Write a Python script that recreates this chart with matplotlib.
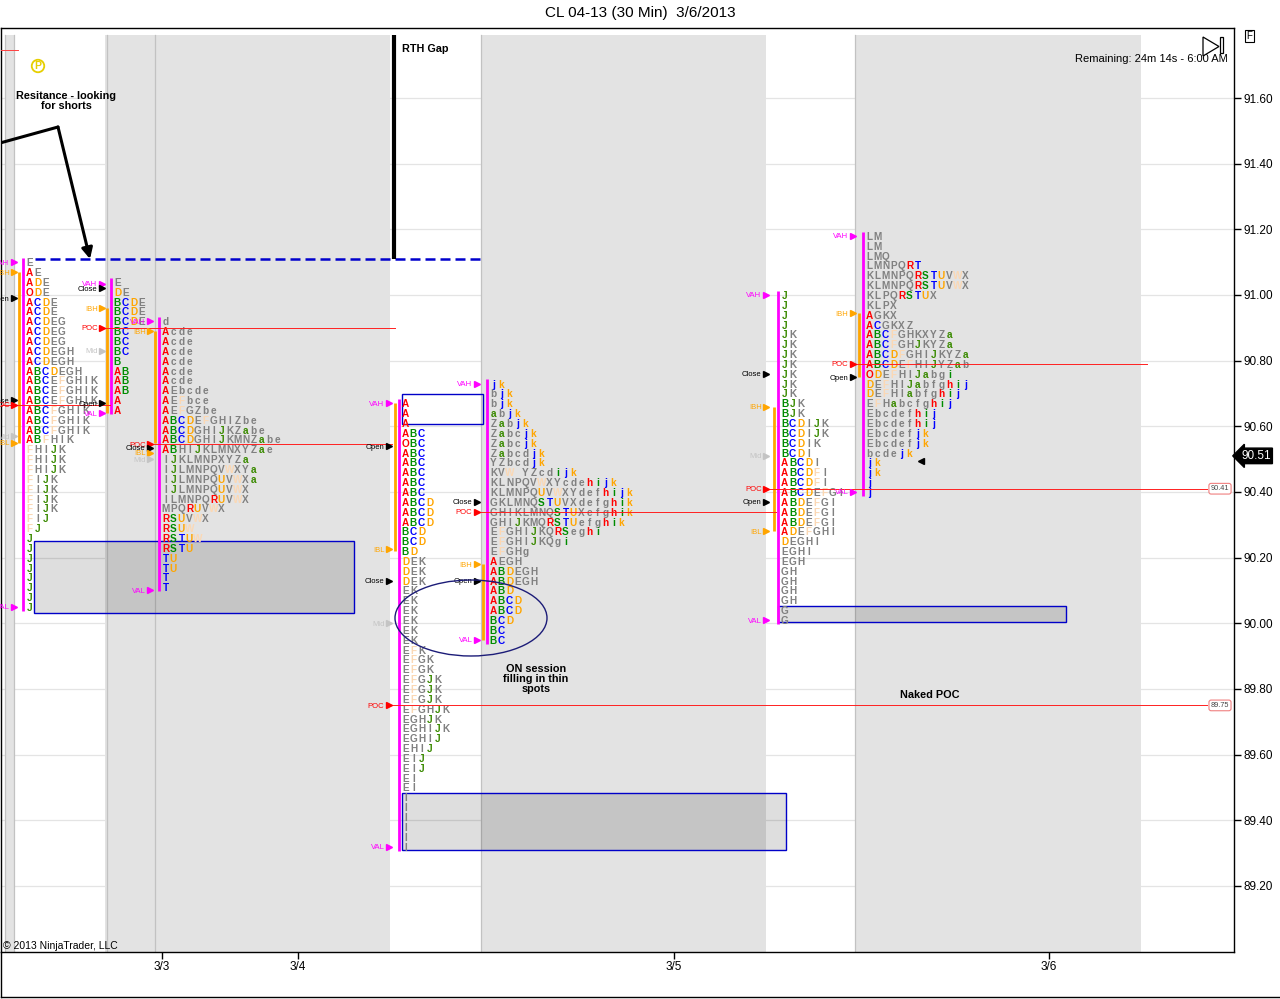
import numpy as np
import matplotlib
matplotlib.use("Agg")
import matplotlib.pyplot as plt
from matplotlib.patches import Rectangle, Ellipse, Polygon
from matplotlib.lines import Line2D

plt.rcParams['font.family'] = ['Liberation Sans', 'DejaVu Sans']

# ============== chart data ==============
title = "CL 04-13 (30 Min)  3/6/2013"
price_ticks = [89.20, 89.40, 89.60, 89.80, 90.00, 90.20, 90.40, 90.60, 90.80, 91.00, 91.20, 91.40, 91.60]
date_labels = ['3/3', '3/4', '3/5', '3/6']
tick_size = 0.03
last_price = 90.51

# TPO rows, top row first.  F and W are the faint letters.
p1_rows = ["E", "AE", "ADE", "ODE", "ACDE", "ACDE", "ACDEG", "ACDEG", "ACDEG", "ACDEGH", "ACDEGH",
           "ABCDEGH", "ABCEFGHIK", "ABCEFGHIK", "ABCEFGHIK", "ABCFGHIK", "ABCFGHIK", "ABCFGHIK",
           "ABFHIK", "FHIJK", "FHIJK", "FHIJK", "FIJK", "FIJK", "FIJK", "FIJK", "FIJ", "FJ",
           "J", "J", "J", "J", "J", "J", "J", "J"]
p2_rows = ["E", "DE", "BCDE", "BCDE", "BCDE", "BC", "BC", "BC", "B", "AB", "AB", "AB", "A", "A"]
p3_rows = ["d", "Acde", "Acde", "Acde", "Acde", "Acde", "Acde", "AEbcde", "AEFbce", "AEFGZbe",
           "ABCDEFGHIZbe", "ABCDGHIJKZabe", "ABCDGHIJKMNZabe", "ABHIJKLMNXYZae", "IJKLMNPXYZa",
           "IJLMNPQVWXYa", "IJLMNPQUVWXa", "IJLMNPQUVWX", "ILMNPQRUVWX", "MPQRUVWX", "RSUVWX",
           "RSUW", "RSTUW", "RSTU", "TU", "TU", "T", "T"]
p4_rows = ["A", "A", "A", "ABC", "OBC", "ABC", "ABC", "ABC", "ABC", "ABC", "ABCD", "ABCD", "ABCD",
           "BCD", "BCD", "BD", "DEK", "DEK", "DEK", "EK", "EK", "EK", "EK", "EK", "EK", "EFK",
           "EFGK", "EFGK", "EFGJK", "EFGJK", "EFGJK", "EFGHJK", "EGHJK", "EGHIJK", "EGHIJ", "EHIJ",
           "EIJ", "EIJ", "EI", "EI", "I", "I", "I", "I", "I", "I"]
p5_rows = ["jk", "bjk", "bjk", "abjk", "Zabjk", "Zabcjk", "Zabcjk", "Zabcdjk", "YZbcdjk",
           "KVW YZcdijk", "KLNPQVWXYcdehijk", "KLMNPQUVWXYdefhijk", "GKLMNQSTUVXdefghik",
           "GHIKLMNQSTUXefghik", "GHIJKMQRSTUefghik", "EFGHIJKQRSeghi", "EFGHIJKQgi", "EFGHg",
           "AEGH", "ABDEGH", "ABDEGH", "ABD", "ABCD", "ABCD", "BCD", "BC", "BC"]
p6_rows = ["J", "J", "J", "J", "JK", "JK", "JK", "JK", "JK", "JK", "JK", "BJK", "BJK", "BCDIJK",
           "BCDIJK", "BCDIK", "BCDI", "ABCDI", "ABCDFI", "ABCDFI", "ABCDEFGI", "ABDEFGI", "ABDEFGI",
           "ABDEFGI", "ADEFGHI", "DEGHI", "EGHI", "EGH", "GH", "GH", "GH", "GH", "G", "G"]
p7_rows = ["LM", "LM", "LMQ", "LMNPQRT", "KLMNPQRSTUVWX", "KLMNPQRSTUVWX", "KLPQRSTUX", "KLPX",
           "AGKX", "ACGKXZ", "ABCFGHKXYZa", "ABCFGHJKYZa", "ABCDFGHIJKYZa", "ABCDEFHIJYZab",
           "ODEFHIJabgi", "DEFHIJabfghij", "DEFHIabfghij", "EFHabcfghij", "Ebcdefhij", "Ebcdefhij",
           "Ebcdefjk", "Ebcdefjk", "bcdejk", "jk", "jk", "j", "j"]

profile_tops = [91.10, 91.04, 90.92, 90.67, 90.73, 91.00, 91.18]
profile_ib = [(91.07, 90.55), (90.96, 90.64), (90.89, 90.55), (90.67, 90.22),
              (90.18, 89.95), (90.66, 90.28), (90.945, 90.75)]
profile_marks = [
    [("VAH", 91.10), ("IBH", 91.07), ("Open", 90.99), ("Close", 90.68), ("POC", 90.665),
     ("Mid", 90.57), ("IBL", 90.55), ("VAL", 90.05)],
    [("VAH", 91.035), ("Close", 91.02), ("IBH", 90.96), ("POC", 90.90), ("Mid", 90.83),
     ("Open", 90.67), ("VAL", 90.64)],
    [("VAH", 90.92), ("IBH", 90.89), ("POC", 90.545), ("Close", 90.535), ("IBL", 90.52),
     ("Mid", 90.50), ("VAL", 90.10)],
    [("VAH", 90.67), ("Open", 90.54), ("IBL", 90.225), ("Close", 90.13), ("Mid", 90.00),
     ("POC", 89.75), ("VAL", 89.32)],
    [("VAH", 90.73), ("Close", 90.37), ("POC", 90.34), ("IBH", 90.18), ("Open", 90.13),
     ("VAL", 89.95)],
    [("VAH", 91.00), ("Close", 90.76), ("IBH", 90.66), ("Mid", 90.51), ("POC", 90.41),
     ("Open", 90.37), ("IBL", 90.28), ("VAL", 90.01)],
    [("VAH", 91.18), ("IBH", 90.945), ("POC", 90.79), ("Open", 90.75), ("VAL", 90.40)],
]
naked_pocs = [89.75, 90.41]
resistance = 91.11
# =========================================

# layout (pixels of the 1280x999 picture)
W, H = 1280, 999
PX_L, PX_R, PX_T, PX_B = 1, 1234, 28, 952
date_x = [162, 298, 674, 1049]
profile_x = [23, 111, 159, 399, 487, 778, 863]
label_tip = [16, 104, 152, 391, 479, 768, 855]
poc_span = [(0, 110), (103, 395), (150, 392), (390, 1207), (477, 776), (768, 1207), (855, 1147)]
sessions = [(5, 14), (105, 390), (481, 766), (855, 1141)]


def yp(py):
    # picture row -> price
    return 91.60 - (py - 98) / 328.33


RED, GRN, BLU, ORG = '#ff0000', '#008c00', '#0000ff', '#ffa500'
GRY, PALE, DGRN, MAG = '#808080', '#fbd8b4', '#3a8a00', '#ff00ff'
letter_color = {c: GRY for c in "ABCDEFGHIJKLMNOPQRSTUVWXYZabcdefghijk"}
letter_color.update({'A': RED, 'B': GRN, 'C': BLU, 'D': ORG, 'F': PALE, 'J': DGRN, 'O': RED,
                     'R': RED, 'S': GRN, 'T': BLU, 'U': ORG, 'W': PALE, 'a': DGRN,
                     'h': RED, 'i': GRN, 'j': BLU, 'k': ORG})
mark_color = {'VAH': MAG, 'VAL': MAG, 'IBH': ORG, 'IBL': ORG, 'POC': RED,
              'Open': 'black', 'Close': 'black', 'Mid': '#c4c4c4'}

fig = plt.figure(figsize=(W / 100, H / 100), dpi=100)
ax = fig.add_axes([PX_L / W, 1 - PX_B / H, (PX_R - PX_L) / W, (PX_B - PX_T) / H])
ax.set_xlim(PX_L, PX_R)
ax.set_ylim(yp(PX_B), yp(PX_T))

# grid and session bands
for p in price_ticks:
    ax.axhline(p, color='#e4e4e4', lw=0.9, zorder=0.2)
for x0, x1 in sessions:
    ax.fill_between([x0, x1], yp(PX_B), yp(35), color='#e3e3e3', lw=0, zorder=0.5)
for xv in [5, 14, 107, 155, 481, 855]:
    ax.plot([xv, xv], [yp(PX_B), yp(35)], color='#c2c2c2', lw=0.9, zorder=0.6)

# shaded boxes
for x0, x1, y0, y1, filled in [(34, 354, 541, 613, True), (402, 483, 394, 424, False),
                               (402, 786, 793, 850, True), (778, 1066, 606, 622, True)]:
    ax.add_patch(Rectangle((x0, yp(y1)), x1 - x0, yp(y0) - yp(y1),
                           fc=(0, 0, 0, 0.13) if filled else 'none', ec='#0000c8', lw=1, zorder=1))

# profiles
all_rows = [p1_rows, p2_rows, p3_rows, p4_rows, p5_rows, p6_rows, p7_rows]
for k, rows in enumerate(all_rows):
    xl = profile_x[k]
    top = profile_tops[k]
    bottom = top - tick_size * (len(rows) - 1)
    ax.plot([xl, xl], [top + 0.013, bottom - 0.013], color=MAG, lw=2.0,
            solid_capstyle='butt', zorder=3)
    ax.plot([xl - 4, xl - 4], profile_ib[k], color=ORG, lw=2.0, solid_capstyle='butt', zorder=3)
    for i, row in enumerate(rows):
        p = top - tick_size * i
        for j, ch in enumerate(row):
            if ch == ' ':
                continue
            ax.text(xl + 6.5 + 8 * j, p, ch, color=letter_color[ch], fontsize=7.2,
                    fontweight='bold', ha='center', va='center_baseline', zorder=3)
    tip = label_tip[k]
    for name, price in profile_marks[k]:
        col = mark_color[name]
        ax.plot(tip - 2.5, price, marker='>', ms=3.8, color=col, mec=col, lw=0, zorder=5)
        ax.text(tip - 6.5, price, name, ha='right', va='center_baseline', fontsize=5.5,
                color=col, zorder=5)
    poc = [v for n, v in profile_marks[k] if n == 'POC'][0]
    ax.plot(poc_span[k], [poc, poc], color='#ff2020', lw=0.7, zorder=4)

ax.plot([0, 18], [yp(50), yp(50)], color='#ff4040', lw=0.7, zorder=4)

# naked POC value boxes
for v in naked_pocs:
    ax.text(1220, v, f"{v:.2f}", fontsize=5.3, ha='center', va='center', color='#444444',
            bbox=dict(boxstyle='round,pad=0.25,rounding_size=0.3', fc='white', ec='#f08080', lw=0.8),
            zorder=6)

# current price marker
ax.plot(921, last_price - 0.015, marker='<', ms=4, color='black', lw=0, zorder=6)

# annotations
ax.plot([35, 481], [resistance, resistance], color='#0000cc', lw=1.8, dashes=(4, 2), zorder=6)
ax.plot([394, 394], [yp(35), resistance], color='black', lw=3, solid_capstyle='butt', zorder=6)
ax.text(402, yp(49), "RTH Gap", fontsize=7.8, fontweight='bold', ha='left', va='center', zorder=7)
ax.text(66, yp(101), "Resitance - looking\nfor shorts", fontsize=7.8, fontweight='bold',
        ha='center', va='center', linespacing=1.05, zorder=7)
ax.plot([0, 58], [yp(143), yp(127)], color='black', lw=2.2, solid_capstyle='round', zorder=7)
ax.annotate('', xy=(90, yp(259)), xytext=(58, yp(127)),
            arrowprops=dict(arrowstyle='-|>', lw=2.2, color='black', mutation_scale=16,
                            shrinkA=0, shrinkB=0), zorder=7)
ax.text(38, yp(66), 'P', color='#e6cf00', fontsize=7.5, fontweight='bold', ha='center', va='center',
        bbox=dict(boxstyle='circle,pad=0.12', fc='none', ec='#e6cf00', lw=1.3), zorder=7)
ax.add_patch(Ellipse((471, yp(618)), 152, 76 / 328.33, fc='none', ec='#1c1c78', lw=1, zorder=6))
ax.text(536, yp(679), "ON session\nfilling in thin\nspots", fontsize=7.8, fontweight='bold',
        ha='center', va='center', linespacing=1.05, zorder=7)
ax.text(930, yp(695), "Naked POC", fontsize=7.8, fontweight='bold', ha='center', va='center', zorder=7)
ax.text(1228, yp(59), "Remaining: 24m 14s - 6:00 AM", fontsize=8, ha='right', va='center', zorder=7)
ax.add_patch(Polygon([(1203, yp(37)), (1203, yp(56)), (1219, yp(46.5))], closed=True,
                     fc='white', ec='black', lw=0.9, zorder=7))
ax.add_patch(Rectangle((1220, yp(53)), 3, yp(37) - yp(53), fc='white', ec='black', lw=0.9, zorder=7))
ax.text(3, yp(946), "\u00a9 2013 NinjaTrader, LLC", fontsize=7.5, ha='left', va='center', zorder=7)

# axes
ax.yaxis.tick_right()
ax.set_yticks(price_ticks)
ax.set_yticklabels([f"{p:.2f}" for p in price_ticks])
ax.set_xticks(date_x)
ax.set_xticklabels(date_labels)
ax.tick_params(axis='both', direction='out', length=5, width=1, labelsize=8.5, pad=1.5)
for s in ax.spines.values():
    s.set_linewidth(1)

ax.text(1241, last_price, f"{last_price:.2f}", color='white', fontsize=8.5, ha='left', va='center',
        transform=ax.transData, clip_on=False,
        bbox=dict(boxstyle='larrow,pad=0.15', fc='black', ec='black'), zorder=8)

fig.text(0.5, 1 - 13 / H, title, ha='center', va='center', fontsize=11)
fig.text(1249.5 / W, 1 - 36 / H, 'F', ha='center', va='center', fontsize=7,
         bbox=dict(boxstyle='square,pad=0.15', fc='white', ec='black', lw=0.8))
fig.add_artist(Line2D([1 / W, 1 / W], [1 - PX_B / H, 1 - 997 / H], color='black', lw=1))
fig.add_artist(Line2D([1 / W, 1279 / W], [1 - 997 / H, 1 - 997 / H], color='black', lw=1))

fig.savefig("out.png", dpi=100)
